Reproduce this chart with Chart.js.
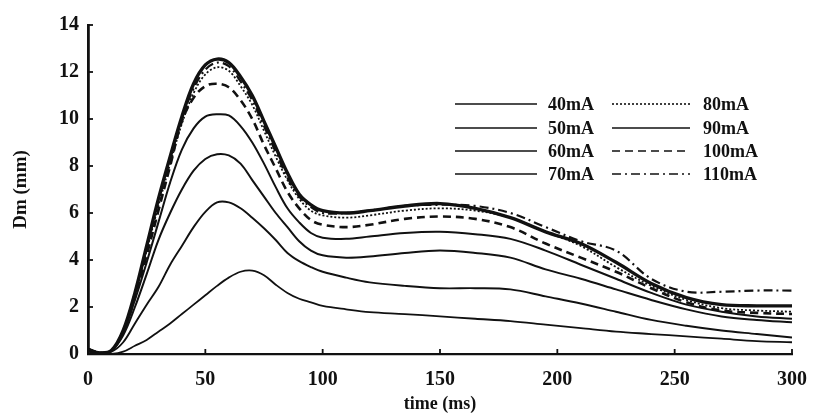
<!DOCTYPE html>
<html>
<head>
<meta charset="utf-8">
<script src="https://cdn.jsdelivr.net/npm/chart.js@4.4.1/dist/chart.umd.min.js"></script>
<style>
  html, body { margin: 0; padding: 0; background: #fff; }
  #wrap { width: 821px; height: 416px; }
</style>
</head>
<body>
<div id="wrap"><canvas id="dmChart"></canvas></div>
<script>
// time axis (ms)
const times = [0, 5, 10, 15, 20, 25, 30, 35, 40, 45, 50, 55, 60, 65, 70, 75, 80, 85, 90, 95, 100, 110, 120, 135, 150, 165, 180, 195, 210, 225, 240, 255, 270, 285, 300];

// Dm (mm) per current
const dm40 = [0.1, 0.0, 0.0, 0.1, 0.35, 0.6, 0.95, 1.3, 1.7, 2.1, 2.5, 2.9, 3.25, 3.5, 3.55, 3.35, 2.95, 2.6, 2.35, 2.2, 2.05, 1.9, 1.78, 1.7, 1.6, 1.5, 1.4, 1.25, 1.1, 0.95, 0.85, 0.75, 0.65, 0.55, 0.5];
const dm50 = [0.2, 0.05, 0.1, 0.5, 1.3, 2.1, 2.85, 3.8, 4.6, 5.4, 6.05, 6.45, 6.45, 6.2, 5.8, 5.35, 4.85, 4.3, 3.95, 3.7, 3.5, 3.25, 3.05, 2.9, 2.8, 2.8, 2.75, 2.45, 2.15, 1.8, 1.45, 1.2, 1.0, 0.85, 0.7];
const dm60 = [0.2, 0.05, 0.15, 0.8, 2.0, 3.4, 4.85, 6.0, 7.0, 7.8, 8.3, 8.5, 8.45, 8.1, 7.4, 6.7, 6.0, 5.4, 4.8, 4.4, 4.2, 4.1, 4.15, 4.3, 4.4, 4.3, 4.1, 3.6, 3.2, 2.75, 2.3, 1.9, 1.6, 1.45, 1.35];
const dm70 = [0.2, 0.05, 0.15, 0.9, 2.3, 3.9, 5.6, 7.3, 8.7, 9.6, 10.1, 10.2, 10.15, 9.7, 9.0, 8.1, 7.1, 6.2, 5.6, 5.15, 4.95, 4.9, 5.0, 5.15, 5.2, 5.1, 4.9, 4.4, 3.8, 3.2, 2.6, 2.1, 1.8, 1.6, 1.5];
const dm80 = [0.2, 0.05, 0.15, 1.0, 2.5, 4.4, 6.3, 8.1, 9.8, 11.1, 11.9, 12.2, 12.05, 11.4, 10.6, 9.5, 8.4, 7.4, 6.6, 6.1, 5.9, 5.8, 5.9, 6.1, 6.2, 6.1, 5.8, 5.2, 4.6, 3.7, 2.9, 2.3, 1.95, 1.85, 1.8];
const dm90 = [0.2, 0.05, 0.15, 1.0, 2.6, 4.6, 6.6, 8.4, 10.1, 11.5, 12.3, 12.55, 12.4, 11.8, 11.0, 9.9, 8.8, 7.7, 6.8, 6.35, 6.1, 6.0, 6.1, 6.3, 6.4, 6.2, 5.8, 5.2, 4.7, 3.9, 3.0, 2.4, 2.1, 2.05, 2.05];
const dm100 = [0.2, 0.05, 0.15, 0.95, 2.4, 4.2, 6.1, 8.0, 9.9, 10.9, 11.4, 11.5, 11.35, 10.8, 10.0, 8.9, 7.9, 6.9, 6.2, 5.7, 5.5, 5.4, 5.5, 5.75, 5.85, 5.75, 5.4, 4.7, 4.1, 3.5, 2.8, 2.2, 1.85, 1.75, 1.7];
const dm110 = [0.2, 0.05, 0.15, 1.0, 2.6, 4.5, 6.5, 8.3, 10.0, 11.3, 12.1, 12.4, 12.25, 11.6, 10.8, 9.7, 8.6, 7.5, 6.7, 6.25, 6.0, 6.0, 6.1, 6.3, 6.35, 6.3, 6.0, 5.4, 4.8, 4.4, 3.2, 2.65, 2.65, 2.7, 2.7];

const seriesLabels = ["40mA", "50mA", "60mA", "70mA", "80mA", "90mA", "100mA", "110mA"];
const seriesValues = [dm40, dm50, dm60, dm70, dm80, dm90, dm100, dm110];
const yTicks = [0, 2, 4, 6, 8, 10, 12, 14];
const xTicks = [0, 50, 100, 150, 200, 250, 300];

const ink = "#111";
const serif = "'Liberation Serif', 'DejaVu Serif', serif";
const lineStyles = [
  { width: 1.8, dash: [] },
  { width: 1.9, dash: [] },
  { width: 2, dash: [] },
  { width: 2, dash: [] },
  { width: 1.8, dash: [2, 2] },
  { width: 3.4, dash: [] },
  { width: 2.6, dash: [8, 5] },
  { width: 2.2, dash: [9, 4, 2, 4] }
];

const datasets = seriesLabels.map((lab, i) => ({
  label: lab,
  data: seriesValues[i].map((v, j) => ({ x: times[j], y: v })),
  borderColor: ink,
  borderWidth: lineStyles[i].width,
  borderDash: lineStyles[i].dash,
  pointRadius: 0,
  fill: false,
  tension: 0.35
}));

// two-column legend inside the plot, like the original figure
const twoColLegend = {
  id: "twoColLegend",
  afterDraw(chart) {
    const ctx = chart.ctx;
    const cols = [{ x0: 455, x1: 537, tx: 548 }, { x0: 612, x1: 690, tx: 703 }];
    const rows = [104, 128, 151, 174];
    ctx.save();
    ctx.font = "bold 18px " + serif;
    ctx.fillStyle = ink;
    ctx.textBaseline = "middle";
    chart.data.datasets.forEach((ds, i) => {
      const c = cols[Math.floor(i / 4)];
      const y = rows[i % 4];
      ctx.strokeStyle = ink;
      ctx.lineWidth = Math.min(ds.borderWidth, 1.6);
      ctx.setLineDash(ds.borderDash || []);
      ctx.beginPath();
      ctx.moveTo(c.x0, y);
      ctx.lineTo(c.x1, y);
      ctx.stroke();
      ctx.setLineDash([]);
      ctx.fillText(ds.label, c.tx, y + 1);
    });
    ctx.restore();
  }
};

// small inward tick marks on both axes
const innerTicks = {
  id: "innerTicks",
  afterDraw(chart) {
    const ctx = chart.ctx;
    const xs = chart.scales.x, ys = chart.scales.y;
    ctx.save();
    ctx.strokeStyle = ink;
    ctx.lineWidth = 1.8;
    ys.ticks.forEach(t => {
      const p = ys.getPixelForValue(t.value);
      ctx.beginPath();
      ctx.moveTo(xs.left, p);
      ctx.lineTo(xs.left + 5, p);
      ctx.stroke();
    });
    xs.ticks.forEach(t => {
      const p = xs.getPixelForValue(t.value);
      ctx.beginPath();
      ctx.moveTo(p, ys.bottom);
      ctx.lineTo(p, ys.bottom - 5);
      ctx.stroke();
    });
    ctx.restore();
  }
};

new Chart(document.getElementById("dmChart").getContext("2d"), {
  type: "line",
  data: { datasets: datasets },
  options: {
    responsive: true,
    maintainAspectRatio: false,
    animation: false,
    layout: { padding: { top: 25, right: 22, left: 0, bottom: 0 } },
    plugins: {
      legend: { display: false },
      tooltip: { enabled: false }
    },
    scales: {
      x: {
        type: "linear",
        min: 0,
        max: 300,
        afterBuildTicks: s => { s.ticks = xTicks.map(v => ({ value: v })); },
        afterFit: s => { s.height = 62; },
        grid: { display: false, drawTicks: false },
        border: { display: true, color: ink, width: 2.2 },
        ticks: { color: ink, padding: 14, font: { family: serif, size: 20, weight: "bold" } },
        title: {
          display: true,
          text: "time (ms)",
          color: ink,
          padding: { top: 0, bottom: 1 },
          font: { family: serif, size: 18, weight: "bold" }
        }
      },
      y: {
        min: 0,
        max: 14,
        afterBuildTicks: s => { s.ticks = yTicks.map(v => ({ value: v })); },
        afterFit: s => { s.width = 88; },
        grid: { display: false, drawTicks: false },
        border: { display: true, color: ink, width: 2.8 },
        ticks: { color: ink, padding: 9, font: { family: serif, size: 20, weight: "bold" } },
        title: {
          display: true,
          text: "Dm (mm)",
          color: ink,
          padding: { top: 10, bottom: 4 },
          font: { family: serif, size: 19, weight: "bold" }
        }
      }
    }
  },
  plugins: [twoColLegend, innerTicks]
});
</script>
</body>
</html>
